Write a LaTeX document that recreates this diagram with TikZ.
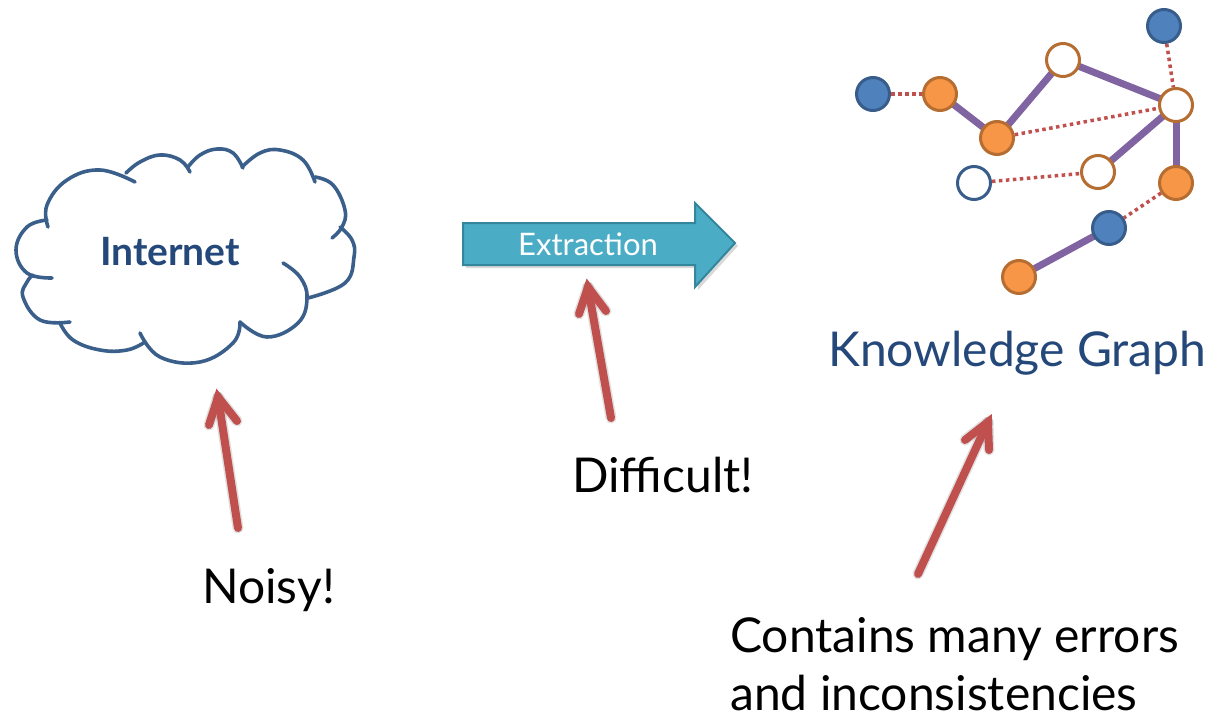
\documentclass[tikz,border=0pt]{standalone}
\usepackage{fontspec}
\setmainfont{Lato}
\usetikzlibrary{backgrounds}

\definecolor{titleblue}{HTML}{24487A}
\definecolor{cloudblue}{HTML}{3A5F8B}
\definecolor{nodeblue}{HTML}{4F81BD}
\definecolor{nodeblueline}{HTML}{385D8A}
\definecolor{nodeorange}{HTML}{F79646}
\definecolor{nodeorangeline}{HTML}{B66D31}
\definecolor{linkpurple}{HTML}{8064A2}
\definecolor{linkred}{HTML}{C0504D}
\definecolor{arrowteal}{HTML}{4BACC6}
\definecolor{arrowtealline}{HTML}{33869C}

\tikzset{
  cloudline/.style={draw=cloudblue, line width=3.6pt, line cap=round},
  kgnode/.style={circle, inner sep=0pt, minimum size=33pt, line width=3pt},
  bluenode/.style={kgnode, fill=nodeblue, draw=nodeblueline},
  orangenode/.style={kgnode, fill=nodeorange, draw=nodeorangeline},
  openorange/.style={kgnode, fill=white, draw=nodeorangeline},
  openblue/.style={kgnode, fill=white, draw=nodeblueline},
  solidlink/.style={draw=linkpurple, line width=7pt},
  dottedlink/.style={draw=linkred, line width=3.5pt, dash pattern=on 3.5pt off 3.5pt},
  pointer/.style={draw=linkred, line width=8pt, line cap=round, line join=miter},
  pointershade/.style={draw=black, opacity=0.12, line width=11pt, line cap=round, line join=round},
  bigtext/.style={inner sep=0pt, font=\fontsize{48}{48}\selectfont},
}

\begin{document}
\begin{tikzpicture}[x=1pt, y=-1pt]
\useasboundingbox (0,0) rectangle (1217,722);

% ---- Internet cloud, one arc per lobe ----
\begin{scope}[cloudline]
\draw plot[smooth, tension=0.7] coordinates {(52,278) (27,273) (16,250) (27,227) (47,220)};
\draw plot[smooth, tension=0.7] coordinates {(48,227) (47,205) (67,180) (100,170) (135,182)};
\draw plot[smooth, tension=0.7] coordinates {(126,173) (140,162) (160,155) (180,160) (190,172)};
\draw plot[smooth, tension=0.7] coordinates {(188,167) (200,155) (217,149) (233,153) (243,168)};
\draw plot[smooth, tension=0.7] coordinates {(242,167) (260,153) (280,150) (303,160) (315,182)};
\draw plot[smooth, tension=0.7] coordinates {(315,177) (333,185) (345,210) (342,227) (332,238)};
\draw plot[smooth, tension=0.7] coordinates {(340,227) (352,240) (354,257) (345,283) (308,298)};
\draw plot[smooth, tension=0.7] coordinates {(283,263) (300,277) (307,298) (298,323) (267,337) (240,322)};
\draw plot[smooth, tension=0.7] coordinates {(240,322) (233,343) (200,362) (160,357) (140,333)};
\draw plot[smooth, tension=0.7] coordinates {(145,342) (127,350) (100,350) (73,340) (60,323)};
\draw plot[smooth, tension=0.7] coordinates {(70,322) (40,320) (23,297) (27,282) (33,275)};
\end{scope}
\node[anchor=base west, inner sep=0pt, text=titleblue, font=\fontsize{39}{39}\selectfont\bfseries]
  (internet) at (100,265) {Internet};

% ---- Extraction block arrow ----
\fill[black, opacity=0.15] (466,226) -- (698,226) -- (698,206) -- (738,246) -- (698,290) -- (698,268) -- (466,268) -- cycle;
\draw[fill=arrowteal, draw=arrowtealline, line width=2pt, line join=miter]
  (463,223) -- (695,223) -- (695,203) -- (735,243) -- (695,287) -- (695,265) -- (463,265) -- cycle;
\node[anchor=base west, inner sep=0pt, text=white, font=\fontsize{31}{31}\selectfont]
  (extraction) at (518,255) {Extraction};

% ---- Knowledge graph ----
\node[bluenode]   (a) at (873,94)  {};
\node[orangenode] (b) at (940,94)  {};
\node[orangenode] (c) at (997,138) {};
\node[openorange] (d) at (1063,60) {};
\node[bluenode]   (e) at (1164,26) {};
\node[openorange] (f) at (1176,105) {};
\node[openorange] (g) at (1098,172) {};
\node[openblue]   (h) at (974,183) {};
\node[orangenode] (i) at (1176,183) {};
\node[bluenode]   (j) at (1109,228) {};
\node[orangenode] (k) at (1019,277) {};

\begin{scope}[on background layer]
\draw[solidlink] (b.center) -- (c.center);
\draw[solidlink] (c.center) -- (d.center);
\draw[solidlink] (d.center) -- (f.center);
\draw[solidlink] (f.center) -- (g.center);
\draw[solidlink] (f.center) -- (i.center);
\draw[solidlink] (j.center) -- (k.center);
\draw[dottedlink] (a) -- (b);
\draw[dottedlink] (c) -- (f);
\draw[dottedlink] (e) -- (f);
\draw[dottedlink] (h) -- (g);
\draw[dottedlink] (i) -- (j);
\end{scope}

\node[anchor=base west, bigtext, text=titleblue] (kg) at (828,366) {Knowledge Graph};

% ---- Captions ----
\node[anchor=base west, bigtext] (noisy) at (202,603) {Noisy!};
\node[anchor=base west, bigtext] (difficult) at (572,492) {Difficult!};
\node[anchor=base west, bigtext] (errors) at (730,652) {Contains many errors};
\node[anchor=base west, bigtext, text depth=0pt] (errors2) at (730,710) {and inconsistencies};

% ---- Red pointers ----
\coordinate (p1tail) at (238,528);
\coordinate (p1tip)  at (218,397);
\coordinate (p1l)    at (209,425);
\coordinate (p1r)    at (237,421);
\coordinate (p2tail) at (611,418);
\coordinate (p2tip)  at (588,287);
\coordinate (p2l)    at (579,314);
\coordinate (p2r)    at (606,311);
\coordinate (p3tail) at (918,574);
\coordinate (p3tip)  at (988,422);
\coordinate (p3l)    at (965,440);
\coordinate (p3r)    at (989,450);

\foreach \p in {p1,p2,p3}{
  \begin{scope}[shift={(3,3)}]
    \draw[pointershade] (\p tail) -- (\p tip);
    \draw[pointershade] (\p l) -- (\p tip) -- (\p r);
  \end{scope}
  \draw[pointer] (\p tail) -- (\p tip);
  \draw[pointer] (\p l) -- (\p tip) -- (\p r);
}
\end{tikzpicture}
\end{document}
